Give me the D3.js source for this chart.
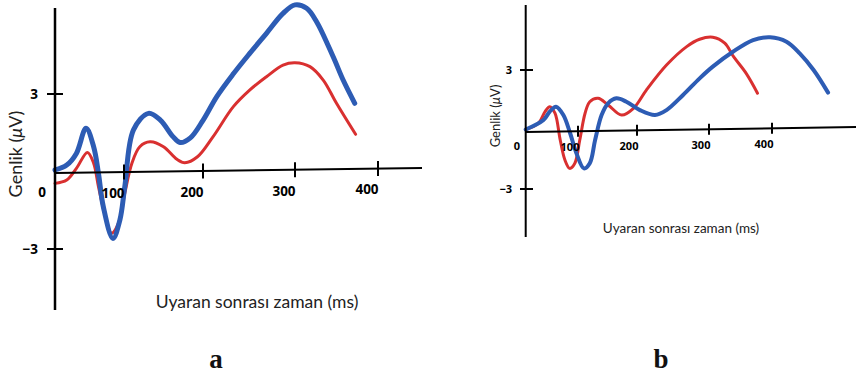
<!DOCTYPE html>
<html>
<head>
<meta charset="utf-8">
<script src="https://cdn.jsdelivr.net/npm/d3@7"></script>
<style>
  html, body { margin: 0; padding: 0; background: #ffffff; }
  svg { display: block; }
</style>
</head>
<body>
<svg id="chart" width="856" height="377"></svg>
<script>
// ---------------- DATA ----------------
const xTickValues = [100, 200, 300, 400];
const yTickValues = [3, -3];
const zeroLabel = "0";
const yTitle = "Genlik (";
const xTitle = "Uyaran sonrası zaman (ms)";
const panelLabels = ["a", "b"];

// Panel a (time in ms, amplitude in µV)
const aBlueTime = [0, 17, 31, 45, 56, 63, 70, 84, 94, 101, 112, 131, 146, 162, 171, 184, 200, 215, 233, 251, 269, 287, 300, 314, 326, 346, 358, 372];
const aBlue = [0.06, 0.25, 0.7, 1.67, 0.96, -0.07, -1.36, -2.59, -1.88, -0.59, 1.61, 2.25, 1.99, 1.35, 1.12, 1.3, 1.98, 2.9, 3.78, 4.58, 5.35, 6.12, 6.45, 6.32, 5.8, 4.44, 3.54, 2.64];
const aRedTime = [0, 17, 31, 47, 56, 63, 72, 82, 92, 101, 110, 120, 133, 150, 167, 177, 193, 211, 233, 251, 269, 287, 300, 318, 334, 350, 373];
const aRed = [-0.46, -0.33, 0.12, 0.74, 0.32, -0.59, -1.62, -2.39, -2.0, -0.84, 0.32, 0.96, 1.15, 0.96, 0.47, 0.34, 0.57, 1.35, 2.51, 3.16, 3.67, 4.12, 4.21, 4.06, 3.54, 2.64, 1.44];

// Panel b
const bRedTime = [0, 24, 37, 46, 56, 66, 75, 84, 94, 103, 112, 120, 134, 151, 174, 194, 213, 241, 269, 287, 306, 325, 339, 359, 377];
const bRed = [0, 0.31, 0.9, 1.15, 0.82, -0.53, -1.54, -1.96, -1.7, -0.53, 0.82, 1.4, 1.57, 1.24, 0.73, 1.07, 1.99, 3.25, 4.18, 4.55, 4.65, 4.35, 3.67, 2.83, 1.83];
const bBlueTime = [0, 34, 46, 58, 72, 85, 97, 110, 120, 129, 140, 151, 165, 182, 204, 225, 241, 264, 287, 306, 338, 370, 397, 423, 444, 466, 489];
const bBlue = [0, 0.48, 0.9, 1.15, 0.73, -0.19, -1.2, -1.96, -1.7, -0.53, 0.73, 1.32, 1.57, 1.4, 0.98, 0.73, 0.98, 1.74, 2.58, 3.17, 3.92, 4.51, 4.65, 4.43, 3.84, 3.0, 1.86];

// ---------------- LAYOUT ----------------
const BLUE = "#2d5cb4";
const RED = "#d93030";
const svg = d3.select("#chart");

const panels = [
  {
    label: panelLabels[0], labelX: 216,
    xRange: [55, 124, 203, 295, 378],
    yRange: [249, 94],
    axisTop: 8, axisBottom: 310, axisRight: 422,
    tiltLeft: 1.5, tiltRight: -3.5,
    xTickHalf: 7.5, yTickL: 47, yTickR: 63,
    tickFont: 13.5, tickLabelDx: -11, tickLabelDy: 21,
    yLabelEnd: 38, zeroX: 46, zeroY: 192,
    yTitleX: 16, yTitleY: 154, yTitleFont: 18,
    xTitleX: 257, xTitleY: 302, xTitleFont: 17.5,
    series: [
      { t: aRedTime, v: aRed, color: RED, w: 3 },
      { t: aBlueTime, v: aBlue, color: BLUE, w: 5 }
    ],
    axisW: 2.5
  },
  {
    label: panelLabels[1], labelX: 661,
    xRange: [525.7, 578, 637, 709, 772],
    yRange: [189, 70],
    axisTop: 5, axisBottom: 237, axisRight: 856,
    tiltLeft: 2.5, tiltRight: -2.5,
    xTickHalf: 5.5, yTickL: 520, yTickR: 533,
    tickFont: 11, tickLabelDx: -8, tickLabelDy: 16,
    yLabelEnd: 512, zeroX: 520, zeroY: 146,
    yTitleX: 495, yTitleY: 116, yTitleFont: 13,
    xTitleX: 681, xTitleY: 228, xTitleFont: 13.5,
    series: [
      { t: bRedTime, v: bRed, color: RED, w: 3 },
      { t: bBlueTime, v: bBlue, color: BLUE, w: 4 }
    ],
    axisW: 2
  }
];

panels.forEach(p => {
  const g = svg.append("g");
  const x = d3.scaleLinear().domain([0, 100, 200, 300, 400]).range(p.xRange);
  const y = d3.scaleLinear().domain([-3, 3]).range(p.yRange);
  const x0 = p.xRange[0];
  const baseY = y(0);
  const tilt = px => baseY + p.tiltLeft + (p.tiltRight - p.tiltLeft) * (px - x0) / (p.axisRight - x0);

  // curves
  const line = d3.line()
    .x(d => x(d[0]))
    .y(d => y(d[1]))
    .curve(d3.curveCatmullRom.alpha(0.5));
  p.series.forEach(s => {
    g.append("path")
      .datum(s.t.map((t, i) => [t, s.v[i]]))
      .attr("d", line)
      .attr("fill", "none")
      .attr("stroke", s.color)
      .attr("stroke-width", s.w)
      .attr("stroke-linecap", "round")
      .attr("stroke-linejoin", "round");
  });

  // y axis
  g.append("line")
    .attr("x1", x0).attr("x2", x0)
    .attr("y1", p.axisTop).attr("y2", p.axisBottom)
    .attr("stroke", "#000").attr("stroke-width", p.axisW);
  g.selectAll(".ytick").data(yTickValues).enter().append("line")
    .attr("x1", p.yTickL).attr("x2", p.yTickR)
    .attr("y1", d => y(d)).attr("y2", d => y(d))
    .attr("stroke", "#000").attr("stroke-width", 2);
  g.selectAll(".ylab").data(yTickValues).enter().append("text")
    .attr("x", p.yLabelEnd).attr("y", d => y(d))
    .attr("dy", "0.36em")
    .attr("text-anchor", "end")
    .attr("font-family", "'Open Sans', sans-serif")
    .attr("font-weight", "bold")
    .attr("font-size", p.tickFont)
    .text(d => d3.format("d")(d));
  g.append("text")
    .attr("x", p.zeroX).attr("y", p.zeroY)
    .attr("dy", "0.36em")
    .attr("text-anchor", "end")
    .attr("font-family", "'Open Sans', sans-serif")
    .attr("font-weight", "bold")
    .attr("font-size", p.tickFont)
    .text(zeroLabel);

  // x axis (slightly tilted, as in the original)
  g.append("line")
    .attr("x1", x0).attr("x2", p.axisRight)
    .attr("y1", tilt(x0)).attr("y2", tilt(p.axisRight))
    .attr("stroke", "#000").attr("stroke-width", 2);
  g.selectAll(".xtick").data(xTickValues).enter().append("line")
    .attr("x1", d => x(d)).attr("x2", d => x(d))
    .attr("y1", d => tilt(x(d)) - p.xTickHalf).attr("y2", d => tilt(x(d)) + p.xTickHalf)
    .attr("stroke", "#000").attr("stroke-width", 2);
  g.selectAll(".xlab").data(xTickValues).enter().append("text")
    .attr("x", d => x(d) + p.tickLabelDx)
    .attr("y", d => tilt(x(d)) + p.tickLabelDy)
    .attr("dy", "0.36em")
    .attr("text-anchor", "middle")
    .attr("font-family", "'Open Sans', sans-serif")
    .attr("font-weight", "bold")
    .attr("font-size", p.tickFont)
    .text(d => d);

  // axis titles
  const yt = g.append("text")
    .attr("transform", `translate(${p.yTitleX},${p.yTitleY}) rotate(-90)`)
    .attr("text-anchor", "middle")
    .attr("dy", "0.36em")
    .attr("font-family", "Lato, sans-serif")
    .attr("font-size", p.yTitleFont)
    .attr("fill", "#222");
  yt.append("tspan").text(yTitle);
  yt.append("tspan").attr("font-style", "italic").text("μ");
  yt.append("tspan").text("V)");

  g.append("text")
    .attr("x", p.xTitleX).attr("y", p.xTitleY)
    .attr("dy", "0.36em")
    .attr("text-anchor", "middle")
    .attr("font-family", "Lato, sans-serif")
    .attr("font-size", p.xTitleFont)
    .attr("fill", "#222")
    .text(xTitle);

  // panel label
  g.append("text")
    .attr("x", p.labelX).attr("y", 368)
    .attr("text-anchor", "middle")
    .attr("font-family", "'Liberation Serif', serif")
    .attr("font-weight", "bold")
    .attr("font-size", 27)
    .attr("fill", "#111")
    .text(p.label);
});
</script>
</body>
</html>
